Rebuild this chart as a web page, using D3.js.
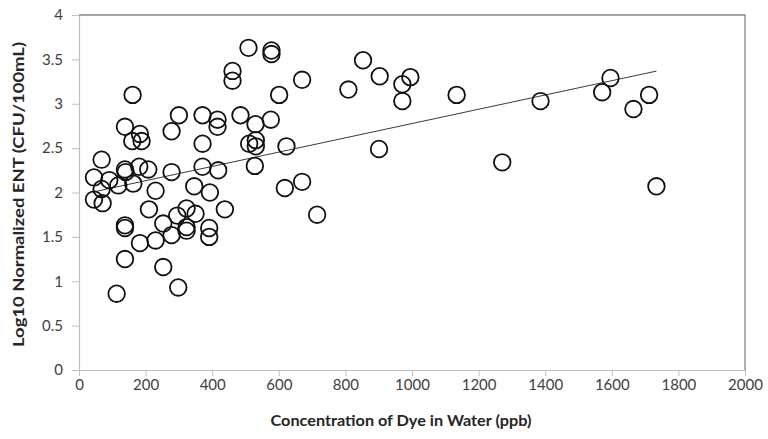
<!DOCTYPE html>
<html>
<head>
<meta charset="utf-8">
<script src="https://cdn.jsdelivr.net/npm/d3@7"></script>
<style>
    body { margin: 0; background: #fff; }
    svg text { font-family: Lato, "Open Sans", sans-serif; }
</style>
</head>
<body>
<svg id="chart" width="768" height="439"></svg>
<script>
// dye concentration (ppb) and log10 ENT
const dyePpb = [
    45, 68, 91, 68, 45, 71, 118, 138, 140, 163,
    181, 208, 278, 230, 138, 183, 160, 188, 161, 278,
    300, 371, 371, 416, 416, 485, 530, 576, 511, 531,
    531, 623, 371, 418, 528, 346, 393, 618, 438, 210,
    323, 295, 350, 253, 323, 323, 278, 391, 391, 230,
    183, 138, 138, 138, 253, 113, 298, 509, 578, 578,
    461, 461, 670, 601, 853, 809, 903, 971, 995, 971,
    1134, 901, 1271, 670, 715, 1596, 1571, 1712, 1665, 1386,
    1734
];
const logEnt = [
    2.17, 2.37, 2.14, 2.04, 1.92, 1.88, 2.08, 2.26, 2.23, 2.10,
    2.29, 2.26, 2.23, 2.02, 2.74, 2.66, 2.58, 2.58, 3.10, 2.69,
    2.87, 2.87, 2.55, 2.82, 2.74, 2.87, 2.77, 2.82, 2.55, 2.59,
    2.52, 2.52, 2.29, 2.25, 2.30, 2.07, 2.00, 2.05, 1.81, 1.81,
    1.82, 1.74, 1.76, 1.65, 1.61, 1.57, 1.52, 1.60, 1.50, 1.46,
    1.43, 1.63, 1.60, 1.25, 1.16, 0.86, 0.93, 3.63, 3.60, 3.56,
    3.37, 3.26, 3.27, 3.10, 3.49, 3.16, 3.31, 3.22, 3.30, 3.03,
    3.10, 2.49, 2.34, 2.12, 1.75, 3.29, 3.13, 3.10, 2.94, 3.03,
    2.07
];
// linear trendline as drawn in the chart
const trendSlope = 0.000805;
const trendIntercept = 1.972;

const xTicks = [0, 200, 400, 600, 800, 1000, 1200, 1400, 1600, 1800, 2000];
const yTicks = [0, 0.5, 1, 1.5, 2, 2.5, 3, 3.5, 4];

const xTitle = "Concentration of Dye in Water (ppb)";
const yTitle = "Log10 Normalized ENT (CFU/100mL)";

const margin = { top: 15, right: 23, bottom: 69, left: 79 };
const width = 768 - margin.left - margin.right;
const height = 439 - margin.top - margin.bottom;

const svg = d3.select("#chart");
const g = svg.append("g").attr("transform", `translate(${margin.left},${margin.top})`);

const x = d3.scaleLinear().domain([0, 2000]).range([0, width]);
const y = d3.scaleLinear().domain([0, 4]).range([height, 0]);

// plot area frame (top and right)
g.append("path")
    .attr("d", `M0,0H${width}V${height}`)
    .attr("fill", "none")
    .attr("stroke", "#868686")
    .attr("stroke-width", 1.3);

const xAxis = g.append("g")
    .attr("transform", `translate(0,${height})`)
    .call(d3.axisBottom(x).tickValues(xTicks).tickSize(6).tickSizeOuter(0).tickPadding(3)
        .tickFormat(d3.format("d")));

const yAxis = g.append("g")
    .call(d3.axisLeft(y).tickValues(yTicks).tickSize(7).tickSizeOuter(0).tickPadding(9)
        .tickFormat(d3.format("")));

[xAxis, yAxis].forEach(ax => {
    ax.select(".domain").attr("stroke", "#bfbfbf").attr("stroke-width", 1.2);
    ax.selectAll(".tick line").attr("stroke", "#bfbfbf");
    ax.selectAll(".tick text")
        .attr("fill", "#404040")
        .style("font-size", "15px")
        .style("font-family", "Lato, 'Open Sans', sans-serif");
});

// trendline across the data range
const [xMin, xMax] = d3.extent(dyePpb);
g.append("line")
    .attr("x1", x(xMin))
    .attr("y1", y(trendIntercept + trendSlope * xMin))
    .attr("x2", x(xMax))
    .attr("y2", y(trendIntercept + trendSlope * xMax))
    .attr("stroke", "#3a3a3a")
    .attr("stroke-width", 1);

g.append("g")
    .selectAll("circle")
    .data(dyePpb.map((d, i) => [d, logEnt[i]]))
    .join("circle")
    .attr("cx", d => x(d[0]))
    .attr("cy", d => y(d[1]))
    .attr("r", 8.3)
    .attr("fill", "none")
    .attr("stroke", "#111")
    .attr("stroke-width", 1.8);

svg.append("text")
    .attr("x", margin.left + width / 2 - 11)
    .attr("y", 426)
    .attr("text-anchor", "middle")
    .attr("fill", "#262626")
    .attr("textLength", 261)
    .attr("lengthAdjust", "spacingAndGlyphs")
    .style("font-size", "16px")
    .style("font-weight", "bold")
    .text(xTitle);

svg.append("text")
    .attr("transform", `translate(24,${margin.top + height / 2 + 2}) rotate(-90)`)
    .attr("text-anchor", "middle")
    .attr("fill", "#262626")
    .attr("textLength", 305)
    .attr("lengthAdjust", "spacingAndGlyphs")
    .style("font-size", "16px")
    .style("font-weight", "bold")
    .text(yTitle);
</script>
</body>
</html>
